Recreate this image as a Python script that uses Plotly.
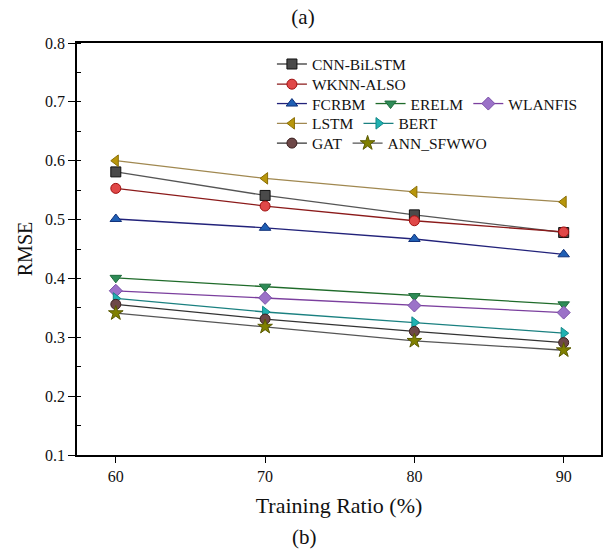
import plotly.graph_objects as go

# Training ratios (%) on the x axis
ratios = [60, 70, 80, 90]

# RMSE per model
cnn_bilstm = [0.581, 0.541, 0.508, 0.478]
wknn_also = [0.553, 0.523, 0.498, 0.479]
fcrbm = [0.501, 0.486, 0.467, 0.441]
erelm = [0.401, 0.386, 0.370, 0.356]
wlanfis = [0.379, 0.367, 0.354, 0.342]
lstm = [0.600, 0.570, 0.547, 0.530]
bert = [0.366, 0.343, 0.325, 0.307]
gat = [0.356, 0.331, 0.310, 0.291]
ann_sfwwo = [0.341, 0.318, 0.294, 0.278]

y_ticks = [0.1, 0.2, 0.3, 0.4, 0.5, 0.6, 0.7, 0.8]
x_ticks = [60, 70, 80, 90]

FONT = "Liberation Serif, Times New Roman, serif"

# name, values, symbol, marker fill, marker edge, line colour, legend group
series = [
    ("CNN-BiLSTM", cnn_bilstm, "square", "#4a4a4a", "#111111", "#555555", "legend"),
    ("WKNN-ALSO", wknn_also, "circle", "#e04848", "#a01010", "#8b1a1a", "legend2"),
    ("FCRBM", fcrbm, "triangle-up", "#1f5fb4", "#10307a", "#22227a", "legend3"),
    ("ERELM", erelm, "triangle-down", "#2e8b57", "#1c6b3a", "#1f6b2a", "legend3"),
    ("WLANFIS", wlanfis, "diamond", "#9b72c8", "#7a4fa8", "#7b3f9e", "legend3"),
    ("LSTM", lstm, "triangle-left", "#b8960b", "#8a6e05", "#a08850", "legend4"),
    ("BERT", bert, "triangle-right", "#20b2b2", "#128888", "#1a8080", "legend4"),
    ("GAT", gat, "circle", "#6e4848", "#3a2020", "#333333", "legend5"),
    ("ANN_SFWWO", ann_sfwwo, "star", "#808000", "#5a5a00", "#555555", "legend5"),
]

fig = go.Figure()
for name, vals, sym, fill, edge, lcol, lg in series:
    fig.add_trace(go.Scatter(
        x=ratios, y=vals, name=name, mode="lines+markers",
        line=dict(color=lcol, width=1.3),
        marker=dict(symbol=sym, size=10 if sym != "star" else 11, color=fill,
                    line=dict(color=edge, width=1)),
        legend=lg,
    ))

legend_rows = {"legend": 0.948, "legend2": 0.899, "legend3": 0.852,
               "legend4": 0.804, "legend5": 0.756}
legend_layouts = {}
for key, ypos in legend_rows.items():
    legend_layouts[key] = dict(
        orientation="h", x=0.372, xanchor="left", y=ypos, yanchor="middle",
        bgcolor="rgba(0,0,0,0)", borderwidth=0,
        font=dict(family=FONT, size=15.5, color="#111111"),
        itemwidth=30, tracegroupgap=0,
    )

fig.update_layout(
    width=606, height=550,
    margin=dict(l=77, r=3, t=43, b=95),
    paper_bgcolor="white", plot_bgcolor="white",
    font=dict(family=FONT, size=16, color="#111111"),
    showlegend=True,
    title=dict(text="(a)", x=0.5, xanchor="center", y=0.969, yanchor="middle",
               font=dict(family=FONT, size=21, color="#111111")),
    annotations=[dict(text="(b)", xref="paper", yref="paper", x=0.434, y=-0.198,
                      xanchor="center", yanchor="middle", showarrow=False,
                      font=dict(family=FONT, size=21, color="#111111"))],
    **legend_layouts,
)

fig.update_xaxes(
    range=[57.4, 92.5], tickvals=x_ticks, ticks="outside", ticklen=6,
    tickwidth=1.3, tickcolor="black", showline=True, linecolor="black",
    linewidth=1.6, mirror=True, showgrid=False, zeroline=False,
    tickfont=dict(family=FONT, size=16),
    title=dict(text="Training Ratio (%)", font=dict(family=FONT, size=22), standoff=14),
)
fig.update_yaxes(
    range=[0.1, 0.8], tickvals=y_ticks, tickformat=".1f", ticks="outside",
    ticklen=7, tickwidth=1.3, tickcolor="black", showline=True,
    linecolor="black", linewidth=1.6, mirror=True, showgrid=False,
    zeroline=False, tickfont=dict(family=FONT, size=16),
    minor=dict(dtick=0.05, tick0=0.1, ticks="inside", ticklen=4, tickcolor="black", tickwidth=1.2),
    title=dict(text="RMSE", font=dict(family=FONT, size=20), standoff=7),
)

fig.write_html("out.html")
